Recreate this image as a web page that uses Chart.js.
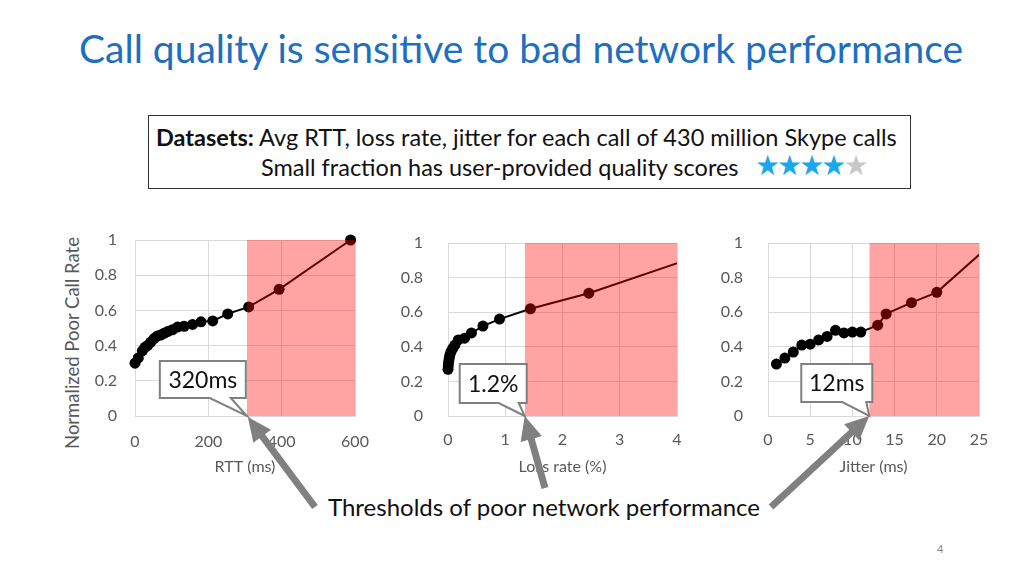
<!DOCTYPE html>
<html>
<head>
<meta charset="utf-8">
<script src="https://cdn.jsdelivr.net/npm/chart.js@4.4.1/dist/chart.umd.min.js"></script>
<style>
  body { margin:0; width:1024px; height:576px; background:#fff; position:relative; overflow:hidden; font-family:Lato, sans-serif; }
  .abs { position:absolute; }
  #title { left:79px; top:25px; font-size:39px; color:#1e6fc1; white-space:nowrap; }
  #box { left:148px; top:115px; width:761px; height:72px; border:1.5px solid #333; }
  .line { font-size:23.5px; color:#111; white-space:nowrap; }
  #stars { left:755px; top:149px; font-size:28px; letter-spacing:-3px; font-family:"DejaVu Sans"; }
  #ytitle { left:72px; top:343px; transform:translate(-50%,-50%) rotate(-90deg); font-size:18.5px; line-height:22px; color:#595959; white-space:nowrap; }
  #thr { left:328px; top:492px; font-size:24px; color:#111; white-space:nowrap; }
  #pg { left:937px; top:542px; font-size:11px; color:#888; }
  canvas { position:absolute; }
</style>
</head>
<body>
<div id="title" class="abs">Call quality is sensitive to bad network performance</div>
<div id="box" class="abs"></div>
<div class="abs line" style="left:156px;top:123px;"><b>Datasets:</b> Avg RTT, loss rate, jitter for each call of 430 million Skype calls</div>
<div class="abs line" style="left:261px;top:153px;">Small fraction has user-provided quality scores</div>
<div id="stars" class="abs"><span style="color:#1aa7ec">★★★★</span><span style="color:#c8c8c8">★</span></div>
<div id="ytitle" class="abs">Normalized Poor Call Rate</div>
<div id="thr" class="abs">Thresholds of poor network performance</div>
<div id="pg" class="abs">4</div>

<canvas id="c1" width="315" height="255" style="left:60px;top:225px;"></canvas>
<canvas id="c2" width="307" height="255" style="left:390px;top:225px;"></canvas>
<canvas id="c3" width="289" height="255" style="left:710px;top:225px;"></canvas>
<canvas id="over" width="1024" height="576" style="left:0;top:0;pointer-events:none;"></canvas>

<script>
// values
var rttX = [0, 9, 20, 27, 34, 43, 52, 61, 70, 79, 89, 102, 116, 134, 157, 180, 212, 253, 310, 393, 588];
var rttY = [0.30, 0.33, 0.37, 0.39, 0.40, 0.42, 0.44, 0.455, 0.46, 0.47, 0.48, 0.49, 0.505, 0.51, 0.52, 0.535, 0.54, 0.58, 0.62, 0.72, 1.0];
var lossX = [0, 0.005, 0.01, 0.02, 0.03, 0.05, 0.08, 0.12, 0.18, 0.29, 0.41, 0.61, 0.90, 1.44, 2.46, 4.6];
var lossY = [0.27, 0.29, 0.31, 0.33, 0.35, 0.37, 0.39, 0.41, 0.44, 0.45, 0.48, 0.52, 0.56, 0.62, 0.71, 0.95];
var jitterX = [1, 2, 3, 4, 5, 6, 7, 8, 9, 10, 11, 13, 14, 17, 20, 26];
var jitterY = [0.30, 0.335, 0.37, 0.41, 0.415, 0.44, 0.46, 0.495, 0.48, 0.485, 0.485, 0.525, 0.59, 0.655, 0.715, 0.975];

var rttTicks = [0, 200, 400, 600];
var lossTicks = [0, 1, 2, 3, 4];
var jitterTicks = [0, 5, 10, 15, 20, 25];
var yTicks = [0, 0.2, 0.4, 0.6, 0.8, 1];

var thresholds = [305, 1.34, 12];
var thresholdLabels = ['320ms', '1.2%', '12ms'];
var axisTitles = ['RTT (ms)', 'Loss rate (%)', 'Jitter (ms)'];

function pts(xs, ys) {
  var out = [];
  for (var i in xs) out.push({x: xs[i], y: ys[i]});
  return out;
}

function makeChart(id, xs, ys, ticks, thr, title, opt) {
  var xmax = ticks[ticks.length - 1];
  return new Chart(document.getElementById(id), {
    type: 'scatter',
    data: {
      datasets: [
        {
          // shaded "poor performance" band, drawn on top of the curve
          data: [{x: thr, y: 1}, {x: xmax, y: 1}],
          showLine: true,
          fill: 'origin',
          backgroundColor: 'rgba(255,0,0,0.36)',
          borderWidth: 0,
          pointRadius: 0,
          order: 0,
          clip: 0
        },
        {
          data: pts(xs, ys),
          showLine: true,
          borderColor: '#000',
          borderWidth: 2,
          backgroundColor: '#000',
          pointRadius: 5.5,
          pointBorderWidth: 0,
          order: 1,
          clip: opt.clip
        }
      ]
    },
    options: {
      responsive: false,
      animation: false,
      layout: {padding: {top: opt.top, right: 20, left: 0, bottom: 0}},
      plugins: {legend: {display: false}, tooltip: {enabled: false}},
      scales: {
        x: {
          type: 'linear', min: 0, max: xmax,
          afterBuildTicks: function(s) { s.ticks = ticks.map(function(v){ return {value: v}; }); },
          afterFit: function(s) { s.height = 64; s.paddingLeft = 0; s.paddingRight = 0; },
          grid: {color: '#d9d9d9', drawTicks: false},
          border: {color: '#d9d9d9'},
          ticks: {padding: opt.xpad, color: '#595959', font: {family: 'Lato', size: 16}, maxRotation: 0,
                  callback: function(v) { return String(v); }},
          title: {display: true, text: title, color: '#595959', font: {family: 'Lato', size: 16}, padding: {top: 4, bottom: 4}}
        },
        y: {
          min: 0, max: 1,
          afterBuildTicks: function(s) { s.ticks = yTicks.map(function(v){ return {value: v}; }); },
          afterFit: function(s) { s.width = opt.yw; s.paddingTop = 0; s.paddingBottom = 0; },
          grid: {color: '#d9d9d9', drawTicks: false},
          border: {color: '#d9d9d9'},
          ticks: {padding: opt.ypad, color: '#595959', font: {family: 'Lato', size: 16},
                  callback: function(v) { return String(v); }}
        }
      }
    }
  });
}

var ch1 = makeChart('c1', rttX, rttY, rttTicks, thresholds[0], axisTitles[0],
  {top: 15, yw: 75, ypad: 18, xpad: 16, clip: false});
var ch2 = makeChart('c2', lossX, lossY, lossTicks, thresholds[1], axisTitles[1],
  {top: 18, yw: 58, ypad: 25, xpad: 14, clip: {left: 10, top: 10, right: 0, bottom: 10}});
var ch3 = makeChart('c3', jitterX, jitterY, jitterTicks, thresholds[2], axisTitles[2],
  {top: 18, yw: 58, ypad: 25, xpad: 14, clip: {left: 10, top: 10, right: 0, bottom: 10}});

// callouts and arrows on an overlay
var ov = document.getElementById('over').getContext('2d');

function tipOf(ch, canvasId, thr) {
  var c = document.getElementById(canvasId);
  return {
    x: c.offsetLeft + ch.scales.x.getPixelForValue(thr),
    y: c.offsetTop + ch.scales.y.getPixelForValue(0)
  };
}

function callout(tip, b, text) {
  ov.beginPath();
  ov.moveTo(tip.x + b.l, tip.y + b.t);
  ov.lineTo(tip.x + b.r, tip.y + b.t);
  ov.lineTo(tip.x + b.r, tip.y + b.b);
  ov.lineTo(tip.x + b.br, tip.y + b.b);
  ov.lineTo(tip.x, tip.y);
  ov.lineTo(tip.x + b.bl, tip.y + b.b);
  ov.lineTo(tip.x + b.l, tip.y + b.b);
  ov.closePath();
  ov.fillStyle = '#fff';
  ov.fill();
  ov.strokeStyle = '#808080';
  ov.lineWidth = 2;
  ov.stroke();
  ov.fillStyle = '#111';
  ov.font = '23px Lato';
  ov.textAlign = 'center';
  ov.textBaseline = 'middle';
  ov.fillText(text, tip.x + (b.l + b.r) / 2, tip.y + (b.t + b.b) / 2 + 1);
}

function arrow(x0, y0, x1, y1) {
  var a = Math.atan2(y1 - y0, x1 - x0);
  var hl = 24, hw = 11, sw = 3.5;
  var len = Math.sqrt((x1 - x0) * (x1 - x0) + (y1 - y0) * (y1 - y0));
  ov.save();
  ov.translate(x0, y0);
  ov.rotate(a);
  ov.fillStyle = '#808080';
  ov.beginPath();
  ov.moveTo(0, -sw);
  ov.lineTo(len - hl, -sw);
  ov.lineTo(len - hl, -hw);
  ov.lineTo(len, 0);
  ov.lineTo(len - hl, hw);
  ov.lineTo(len - hl, sw);
  ov.lineTo(0, sw);
  ov.closePath();
  ov.fill();
  ov.restore();
}

var t1 = tipOf(ch1, 'c1', thresholds[0]);
var t2 = tipOf(ch2, 'c2', thresholds[1]);
var t3 = tipOf(ch3, 'c3', thresholds[2]);

callout(t1, {l: -87, t: -55, r: -1, b: -18, bl: -37, br: -16}, thresholdLabels[0]);
callout(t2, {l: -65, t: -52, r: 2, b: -13, bl: -26, br: -6}, thresholdLabels[1]);
callout(t3, {l: -68, t: -52, r: 3, b: -14, bl: -27, br: -3}, thresholdLabels[2]);

arrow(315, 507, t1.x + 1, t1.y + 1);
arrow(545, 488, t2.x, t2.y);
arrow(771, 507, t3.x, t3.y);
</script>
</body>
</html>
